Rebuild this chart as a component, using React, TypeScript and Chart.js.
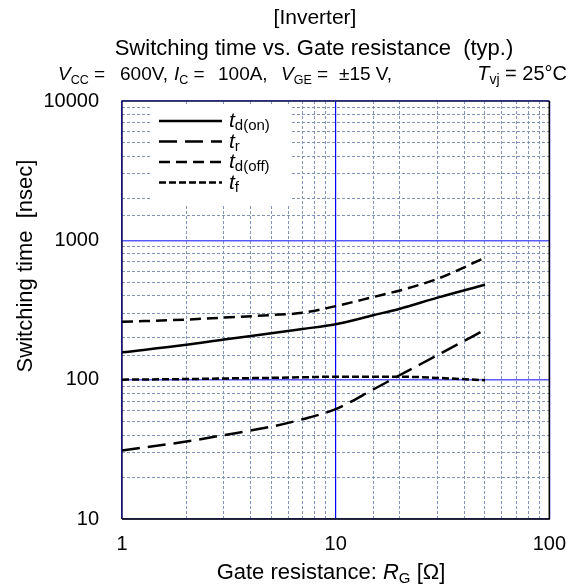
import React, { useEffect, useRef } from "react";
import { Chart, registerables } from "chart.js";

Chart.register(...registerables);

// ---- data ----
const resistance = [1, 2, 3, 5, 7, 10, 15, 20, 30, 50];
const tdOn = [157, 178, 194, 215, 231, 250, 290, 323, 388, 480];
const tR = [31, 36, 40, 46, 52, 61.5, 85, 108, 150, 228];
const tdOff = [260, 270, 279, 291, 302, 337, 392, 437, 530, 750];
const tF = [100, 101, 102, 103, 104, 105, 105, 105, 103, 99];
const xTickLabels = [1, 10, 100];
const yTickLabels = [10, 100, 1000, 10000];
const seriesNames = ["td(on)", "tr", "td(off)", "tf"];

const FONT = '"Liberation Sans", Arial, Helvetica, sans-serif';
const W = 579;
const H = 585;

const isDecade = (v: number) => {
  const l = Math.log10(v);
  return Math.abs(l - Math.round(l)) < 1e-6;
};
const findLabel = (list: number[], v: number) => {
  const hit = list.find((t) => Math.abs(t - v) / t < 1e-6);
  return hit === undefined ? "" : String(hit);
};

const dashes: number[][] = [[], [18, 8], [11, 6], [7, 3]];
const seriesValues = [tdOn, tR, tdOff, tF];

const framePlugin = {
  id: "frame",
  beforeDatasetsDraw(chart: any) {
    const { ctx, chartArea: a } = chart;
    ctx.save();
    ctx.lineWidth = 1.5;
    ctx.strokeStyle = "#1c1c50";
    ctx.beginPath();
    ctx.moveTo(a.left, a.bottom);
    ctx.lineTo(a.left, a.top);
    ctx.lineTo(a.right, a.top);
    ctx.stroke();
    ctx.strokeStyle = "#000";
    ctx.beginPath();
    ctx.moveTo(a.right, a.top);
    ctx.lineTo(a.right, a.bottom);
    ctx.lineTo(a.left, a.bottom);
    ctx.stroke();
    ctx.restore();
  },
};

const MINOR = "#8592b8";

function gridColor(axis: "x" | "y") {
  return (c: any) => {
    if (!c.tick) return MINOR;
    if (isDecade(c.tick.value)) return axis === "x" ? "#0000ff" : "#5a5aff";
    return MINOR;
  };
}

export default function App() {
  const ref = useRef<HTMLCanvasElement | null>(null);

  useEffect(() => {
    if (!ref.current) return;
    const chart = new Chart(ref.current, {
      type: "line",
      data: {
        datasets: seriesValues.map((vals, k) => ({
          label: seriesNames[k],
          data: resistance.map((r, i) => ({ x: r, y: vals[i] })),
          borderColor: "#000",
          borderWidth: 2.5,
          borderDash: dashes[k],
          pointRadius: 0,
          fill: false,
          cubicInterpolationMode: "monotone" as const,
        })),
      },
      options: {
        responsive: false,
        animation: false,
        layout: { padding: { left: 0, top: 101, right: 22, bottom: 0 } },
        plugins: { legend: { display: false }, tooltip: { enabled: false }, title: { display: false } },
        scales: {
          x: {
            type: "logarithmic",
            min: 1,
            max: 100,
            afterFit: (s: any) => {
              s.height = 66;
            },
            border: {
              display: false,
              dash: (c: any) => (c.tick && !isDecade(c.tick.value) ? [3, 2] : []),
            },
            grid: {
              drawTicks: false,
              color: gridColor("x"),
              lineWidth: (c: any) => (c.tick && isDecade(c.tick.value) ? 1.2 : 1),
            },
            ticks: {
              autoSkip: false,
              maxRotation: 0,
              padding: 13,
              color: "#000",
              font: { family: FONT, size: 20 },
              callback: (v: any) => findLabel(xTickLabels, Number(v)),
            },
          },
          y: {
            type: "logarithmic",
            min: 10,
            max: 10000,
            afterFit: (s: any) => {
              s.width = 122;
            },
            border: {
              display: false,
              dash: (c: any) => (c.tick && !isDecade(c.tick.value) ? [3, 2] : []),
            },
            grid: {
              drawTicks: false,
              color: gridColor("y"),
              lineWidth: (c: any) => (c.tick && isDecade(c.tick.value) ? 1.5 : 1),
            },
            ticks: {
              autoSkip: false,
              padding: 23,
              color: "#000",
              font: { family: FONT, size: 20 },
              callback: (v: any) => findLabel(yTickLabels, Number(v)),
            },
          },
        },
      } as any,
      plugins: [framePlugin],
    });
    return () => chart.destroy();
  }, []);

  const legendRows = [
    { main: "t", sub: "d(on)" },
    { main: "t", sub: "r" },
    { main: "t", sub: "d(off)" },
    { main: "t", sub: "f" },
  ];
  const legendLineY = [121, 141.5, 162, 182.5];

  return (
    <div style={{ position: "absolute", left: 0, top: 0, width: W, height: H, background: "#fff" }}>
      <canvas ref={ref} width={W} height={H} style={{ position: "absolute", left: 0, top: 0 }} />
      <svg
        width={W}
        height={H}
        style={{ position: "absolute", left: 0, top: 0, pointerEvents: "none" }}
        fontFamily={FONT}
      >
        {/* titles */}
        <text x={315} y={24} fontSize={21} textAnchor="middle" fill="#000">
          [Inverter]
        </text>
        <text x={314} y={55} fontSize={22} textAnchor="middle" fill="#000">
          Switching time vs. Gate resistance{"\u00a0\u00a0"}(typ.)
        </text>
        {/* condition line */}
        <g fontSize={19} fill="#000">
          <text x={58} y={80}>
            <tspan fontStyle="italic">V</tspan>
            <tspan fontSize={12.5} dy={4}>CC</tspan>
            <tspan dy={-4}> =</tspan>
          </text>
          <text x={120} y={80}>600V,</text>
          <text x={174} y={80}>
            <tspan fontStyle="italic">I</tspan>
            <tspan fontSize={12.5} dy={4}>C</tspan>
            <tspan dy={-4}> =</tspan>
          </text>
          <text x={218} y={80}>100A,</text>
          <text x={281} y={80}>
            <tspan fontStyle="italic">V</tspan>
            <tspan fontSize={12.5} dy={4}>GE</tspan>
            <tspan dy={-4}> =</tspan>
          </text>
          <text x={339} y={80}>±15 V,</text>
          <text x={567} y={80} textAnchor="end" fontSize={20}>
            <tspan fontStyle="italic">T</tspan>
            <tspan fontSize={14} dy={4}>vj</tspan>
            <tspan dy={-4}>{"\u00a0= 25°C"}</tspan>
          </text>
        </g>
        {/* axis titles */}
        <text
          x={0}
          y={0}
          fontSize={22}
          textAnchor="middle"
          fill="#000"
          transform="translate(32 266) rotate(-90)"
        >
          Switching time{"\u00a0\u00a0"}[nsec]
        </text>
        <text x={331} y={579} fontSize={22} textAnchor="middle" fill="#000">
          Gate resistance:{" "}
          <tspan fontStyle="italic">R</tspan>
          <tspan fontSize={15} dy={4}>G</tspan>
          <tspan dy={-4}> [Ω]</tspan>
        </text>
        {/* legend */}
        <rect x={152} y={105} width={140} height={101} fill="#fff" />
        {legendRows.map((row, k) => (
          <g key={k}>
            <line
              x1={159}
              x2={222}
              y1={legendLineY[k]}
              y2={legendLineY[k]}
              stroke="#000"
              strokeWidth={2.5}
              strokeDasharray={dashes[k].length ? dashes[k].join(" ") : undefined}
            />
            <text x={229} y={legendLineY[k] + 6} fontSize={21} fill="#000">
              <tspan fontStyle="italic">{row.main}</tspan>
              <tspan fontSize={15} dy={3}>{row.sub}</tspan>
            </text>
          </g>
        ))}
      </svg>
    </div>
  );
}
